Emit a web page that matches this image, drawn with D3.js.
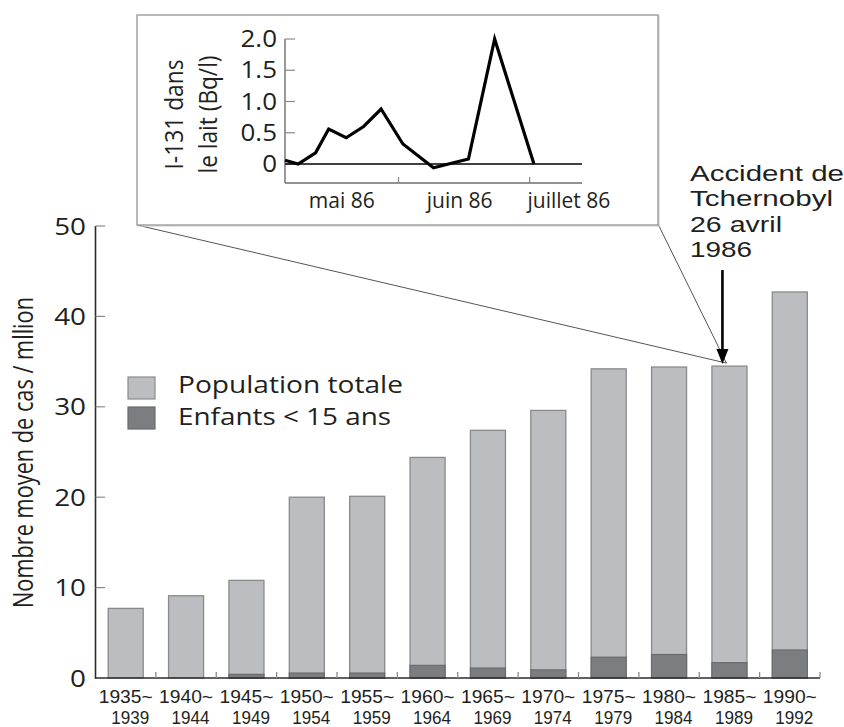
<!DOCTYPE html>
<html><head><meta charset="utf-8">
<script src="https://cdn.jsdelivr.net/npm/d3@7"></script>
<style>
body{margin:0;background:#fff}
svg{display:block}
text{font-family:"Open Sans",sans-serif;fill:#231f20}
text.tight{font-family:"Liberation Sans",Arial,sans-serif}
</style>
</head><body>
<svg id="chart" width="844" height="727"></svg>
<script>
// ---------- data ----------
const periodStart = ["1935~","1940~","1945~","1950~","1955~","1960~","1965~","1970~","1975~","1980~","1985~","1990~"];
const periodEnd   = ["1939","1944","1949","1954","1959","1964","1969","1974","1979","1984","1989","1992"];
const totalValues = [7.7, 9.1, 10.8, 20.0, 20.1, 24.4, 27.4, 29.6, 34.2, 34.4, 34.5, 42.7];
const childValues = [0, 0, 0.4, 0.55, 0.55, 1.4, 1.1, 0.9, 2.3, 2.6, 1.7, 3.1];
const yTicks = [0, 10, 20, 30, 40, 50];
const yLabel = "Nombre moyen de cas / mllion";
const legendLabels = ["Population totale", "Enfants < 15 ans"];
const annotationLines = ["Accident de", "Tchernobyl", "26 avril", "1986"];
const accidentPeriod = "1985~";

const milkDates  = ["1986-05-06","1986-05-09","1986-05-13","1986-05-16","1986-05-20","1986-05-24","1986-05-28","1986-06-02","1986-06-09","1986-06-17","1986-06-23","1986-07-02"];
const milkValues = [0.06, 0, 0.18, 0.56, 0.42, 0.6, 0.88, 0.32, -0.06, 0.08, 2.0, 0];
const insetDomain = ["1986-05-06","1986-07-13"];
const insetTicks = [0, 0.5, 1.0, 1.5, 2.0];
const insetTickLabels = ["0","0.5","1.0","1.5","2.0"];
const monthBoundaries = ["1986-06-01","1986-07-01"];
const monthLabels = ["mai 86","juin 86","juillet 86"];
const monthLabelDates = ["1986-05-19","1986-06-15","1986-07-10"];
const insetYLabel = ["I-131 dans", "le lait (Bq/l)"];

// ---------- setup ----------
const svg = d3.select("#chart");
const LIGHT = "#bcbdc1", DARK = "#7c7d81", BAR_STROKE = "#8a8a8c", AXIS = "#2b2b2b", TICK = "#8a8a8a";

const x = d3.scaleBand().domain(periodStart).range([95.5, 820]).paddingInner(0.42).paddingOuter(0.21);
const y = d3.scaleLinear().domain([0, 50]).range([678, 226]);

// ---------- bars ----------
const bars = svg.append("g");
bars.selectAll("rect.total").data(periodStart).join("rect")
  .attr("class","total")
  .attr("x", d => x(d)).attr("width", x.bandwidth())
  .attr("y", (d,i) => y(totalValues[i])).attr("height", (d,i) => y(0) - y(totalValues[i]))
  .attr("fill", LIGHT).attr("stroke", BAR_STROKE).attr("stroke-width", 1.3);
bars.selectAll("rect.child").data(periodStart.filter((d,i)=>childValues[i]>0)).join("rect")
  .attr("class","child")
  .attr("x", d => x(d)).attr("width", x.bandwidth())
  .attr("y", d => y(childValues[periodStart.indexOf(d)]))
  .attr("height", d => y(0) - y(childValues[periodStart.indexOf(d)]))
  .attr("fill", DARK).attr("stroke", "#6a6b6f").attr("stroke-width", 1.2);

// ---------- y axis ----------
const yAxis = svg.append("g");
yAxis.append("line").attr("x1",95.5).attr("x2",95.5).attr("y1",y(50)).attr("y2",y(0)+0.8)
  .attr("stroke",AXIS).attr("stroke-width",1.6);
yAxis.selectAll("line.t").data(yTicks.filter(t=>t>0)).join("line").attr("class","t")
  .attr("x1",95.5).attr("x2",105).attr("y1",d=>y(d)).attr("y2",d=>y(d))
  .attr("stroke",TICK).attr("stroke-width",1.2);
yAxis.selectAll("text").data(yTicks).join("text")
  .attr("transform", d => `translate(86,${y(d)+8.5}) scale(1.16,1)`)
  .attr("text-anchor","end").attr("font-size",24).text(d=>d);

svg.append("text")
  .attr("transform", `translate(33,452.5) rotate(-90)`)
  .attr("text-anchor","middle").attr("font-size",28)
  .attr("textLength",311).attr("lengthAdjust","spacingAndGlyphs")
  .text(yLabel);

// ---------- x axis ----------
const xAxis = svg.append("g");
xAxis.append("line").attr("x1",95).attr("x2",820).attr("y1",y(0)).attr("y2",y(0))
  .attr("stroke",AXIS).attr("stroke-width",1.6);
const bounds = periodStart.map(d => x(d) - x.step()*0.21 + x.step());
xAxis.selectAll("line.t").data(bounds).join("line").attr("class","t")
  .attr("x1",d=>d).attr("x2",d=>d).attr("y1",y(0)).attr("y2",y(0)-6)
  .attr("stroke",TICK).attr("stroke-width",1.3);
xAxis.selectAll("text.top").data(periodStart).join("text").attr("class","top tight")
  .attr("x", d => x(d)+x.bandwidth()/2).attr("y",703)
  .attr("text-anchor","middle").attr("font-size",19)
  .attr("textLength",54).attr("lengthAdjust","spacingAndGlyphs").text(d=>d);
xAxis.selectAll("text.bot").data(periodEnd).join("text").attr("class","bot tight")
  .attr("x", (d,i) => x(periodStart[i])+x.bandwidth()/2+4.5).attr("y",724)
  .attr("text-anchor","middle").attr("font-size",19)
  .attr("textLength",38).attr("lengthAdjust","spacingAndGlyphs").text(d=>d);

// ---------- legend ----------
const legend = svg.append("g");
const legendColors = [LIGHT, DARK];
const legendTops = [377, 407];
legendLabels.forEach((lab,i) => {
  legend.append("rect").attr("x",128).attr("y",legendTops[i]).attr("width",27).attr("height",22)
    .attr("fill",legendColors[i]).attr("stroke",i?"#6a6b6f":BAR_STROKE).attr("stroke-width",1.2);
  legend.append("text").attr("x",178).attr("y",[393,425][i]).attr("font-size",24)
    .attr("textLength",[225,213][i]).attr("lengthAdjust","spacingAndGlyphs").text(lab);
});

// ---------- annotation ----------
const acc = svg.append("g");
const bx = x(accidentPeriod) + x.bandwidth()/2;
const by = y(totalValues[periodStart.indexOf(accidentPeriod)]);
const box = {x0:137, y0:15, x1:658, y1:225};
acc.append("line").attr("x1",box.x0).attr("y1",box.y1).attr("x2",bx-3).attr("y2",by-3)
  .attr("stroke","#555").attr("stroke-width",1);
acc.append("line").attr("x1",box.x1).attr("y1",box.y1-1).attr("x2",bx-3).attr("y2",by-3)
  .attr("stroke","#555").attr("stroke-width",1);
const ax = bx - 7;
acc.append("line").attr("x1",ax).attr("x2",ax).attr("y1",270).attr("y2",by-14)
  .attr("stroke","#000").attr("stroke-width",2.6);
acc.append("path").attr("d",`M${ax-6},${by-17} L${ax+6},${by-17} L${ax},${by-2} Z`).attr("fill","#000");
const annW = [154,143,92,62];
annotationLines.forEach((t,i) => {
  acc.append("text").attr("class","tight").attr("x",690).attr("y",181+i*25.3).attr("font-size",22)
    .attr("textLength",annW[i]).attr("lengthAdjust","spacingAndGlyphs").text(t);
});

// ---------- inset ----------
const inset = svg.append("g");
inset.append("rect").attr("x",box.x0+1).attr("y",box.y0+1).attr("width",box.x1-box.x0).attr("height",box.y1-box.y0)
  .attr("fill","none").attr("stroke","#d4d4d4").attr("stroke-width",1.2);
inset.append("rect").attr("x",box.x0).attr("y",box.y0).attr("width",box.x1-box.x0).attr("height",box.y1-box.y0)
  .attr("fill","#fff").attr("stroke","#8c8c8c").attr("stroke-width",1.2);

const ix = d3.scaleUtc().domain(insetDomain.map(d=>new Date(d))).range([285, 582]);
const iy = d3.scaleLinear().domain([0, 2]).range([164, 39]);
const iBottom = 183;
inset.append("line").attr("x1",285).attr("x2",285).attr("y1",iy(2)).attr("y2",iBottom)
  .attr("stroke","#6e6e6e").attr("stroke-width",1.4);
inset.append("line").attr("x1",285).attr("x2",582).attr("y1",iBottom).attr("y2",iBottom)
  .attr("stroke","#6e6e6e").attr("stroke-width",1.4);
inset.selectAll("line.yt").data(insetTicks).join("line").attr("class","yt")
  .attr("x1",285).attr("x2",295).attr("y1",d=>iy(d)).attr("y2",d=>iy(d))
  .attr("stroke","#8a8a8a").attr("stroke-width",1.2);
inset.selectAll("line.xt").data(monthBoundaries).join("line").attr("class","xt")
  .attr("x1",d=>ix(new Date(d))).attr("x2",d=>ix(new Date(d))).attr("y1",iBottom).attr("y2",iBottom-6)
  .attr("stroke","#8a8a8a").attr("stroke-width",1.2);
inset.selectAll("text.yl").data(insetTicks).join("text").attr("class","yl")
  .attr("transform",(d)=>`translate(277,${iy(d)+8}) scale(1.08,1)`)
  .attr("text-anchor","end").attr("font-size",24).text((d,i)=>insetTickLabels[i]);
inset.selectAll("text.ml").data(monthLabels).join("text").attr("class","ml")
  .attr("x",(d,i)=>ix(new Date(monthLabelDates[i]))).attr("y",208)
  .attr("text-anchor","middle").attr("font-size",21).text(d=>d);
inset.append("line").attr("x1",285).attr("x2",582).attr("y1",iy(0)).attr("y2",iy(0))
  .attr("stroke","#000").attr("stroke-width",1.5);
const line = d3.line().x((d,i)=>ix(new Date(milkDates[i]))).y(d=>iy(d));
inset.append("path").attr("d", line(milkValues)).attr("fill","none")
  .attr("stroke","#000").attr("stroke-width",3.2).attr("stroke-linejoin","miter");
const iyLabelX = [183, 217], iyLabelW = [110, 118];
insetYLabel.forEach((t,i) => {
  inset.append("text").attr("transform",`translate(${iyLabelX[i]},114.5) rotate(-90)`)
    .attr("text-anchor","middle").attr("font-size",26)
    .attr("textLength",iyLabelW[i]).attr("lengthAdjust","spacingAndGlyphs").text(t);
});
</script>
</body></html>
